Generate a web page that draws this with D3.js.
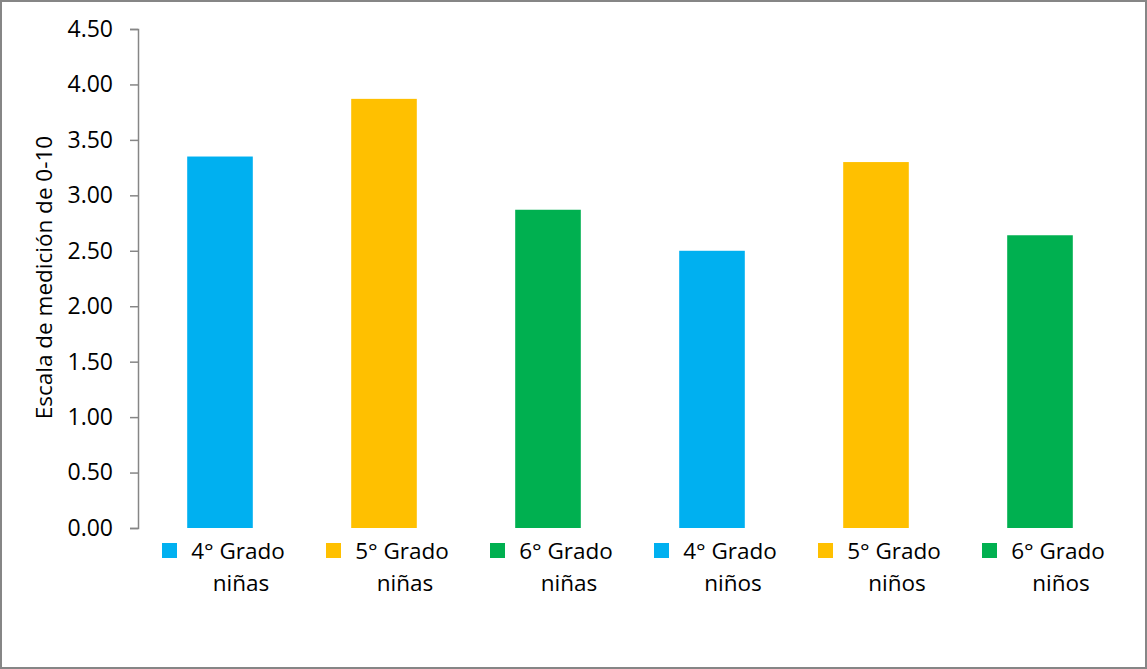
<!DOCTYPE html>
<html>
<head>
<meta charset="utf-8">
<script src="https://cdn.jsdelivr.net/npm/d3@7"></script>
<style>
  body { margin: 0; background: #fff; }
  svg { display: block; font-family: "Open Sans", "Lato", sans-serif; }
</style>
</head>
<body>
<div id="chart"></div>
<script>
// 1: DATA
const grades = ["4° Grado", "5° Grado", "6° Grado", "4° Grado", "5° Grado", "6° Grado"];
const groups = ["niñas", "niñas", "niñas", "niños", "niños", "niños"];
const scores = [3.35, 3.87, 2.87, 2.50, 3.30, 2.64];
const barColors = ["#00B0F0", "#FFC000", "#00B050", "#00B0F0", "#FFC000", "#00B050"];
const yTicks = [0, 0.5, 1, 1.5, 2, 2.5, 3, 3.5, 4, 4.5];

const W = 1147, H = 669;
const margin = { top: 29, right: 25, bottom: 141, left: 138 };
const width = W - margin.left - margin.right;
const height = H - margin.top - margin.bottom;

const data = scores.map((v, i) => ({ key: i, grade: grades[i], group: groups[i], value: v, color: barColors[i] }));

const svg = d3.select("#chart").append("svg")
    .attr("width", W)
    .attr("height", H);

// outer frame
svg.append("rect")
    .attr("x", 1).attr("y", 1)
    .attr("width", W - 2).attr("height", H - 2)
    .attr("fill", "#fff")
    .attr("stroke", "#868686")
    .attr("stroke-width", 2);

const g = svg.append("g")
    .attr("transform", `translate(${margin.left},${margin.top})`);

// 2: SCALES
const x = d3.scaleBand()
    .domain(data.map(d => d.key))
    .range([0, width])
    .paddingInner(0.6)
    .paddingOuter(0.3);

const y = d3.scaleLinear()
    .domain([0, 4.5])
    .range([height, 0]);

// 3: BARS
g.selectAll(".bar")
    .data(data)
    .join("rect")
    .attr("class", "bar")
    .attr("x", d => x(d.key))
    .attr("y", d => y(d.value))
    .attr("width", x.bandwidth())
    .attr("height", d => height - y(d.value))
    .attr("fill", d => d.color);

// 4: Y AXIS
const yAxis = g.append("g")
    .call(d3.axisLeft(y).tickValues(yTicks).tickFormat(d3.format(".2f")).tickSize(8).tickPadding(17));
yAxis.select(".domain").attr("stroke", "#868686").attr("stroke-width", 1.5);
yAxis.selectAll(".tick line").attr("stroke", "#868686").attr("stroke-width", 1.5);
yAxis.selectAll(".tick text")
    .attr("fill", "#000")
    .style("font-size", "23px")
    .style("font-family", "'Open Sans', Lato, sans-serif");

// 5: CATEGORY LABELS (with colour keys)
const labels = g.selectAll(".cat")
    .data(data)
    .join("g")
    .attr("class", "cat")
    .attr("transform", d => `translate(${x(d.key) + x.bandwidth() / 2},${height})`);

labels.append("rect")
    .attr("x", -58)
    .attr("y", 15)
    .attr("width", 15)
    .attr("height", 15)
    .attr("fill", d => d.color);

labels.append("text")
    .attr("x", 18)
    .attr("y", 31)
    .attr("text-anchor", "middle")
    .style("font-size", "22.5px")
    .text(d => d.grade);

labels.append("text")
    .attr("x", 21)
    .attr("y", 63)
    .attr("text-anchor", "middle")
    .style("font-size", "22.5px")
    .text(d => d.group);

// 6: Y LABEL
svg.append("text")
    .attr("transform", `translate(52,${margin.top + height / 2 - 1}) rotate(-90)`)
    .attr("text-anchor", "middle")
    .style("font-size", "22.5px")
    .text("Escala de medición de 0-10");
</script>
</body>
</html>
